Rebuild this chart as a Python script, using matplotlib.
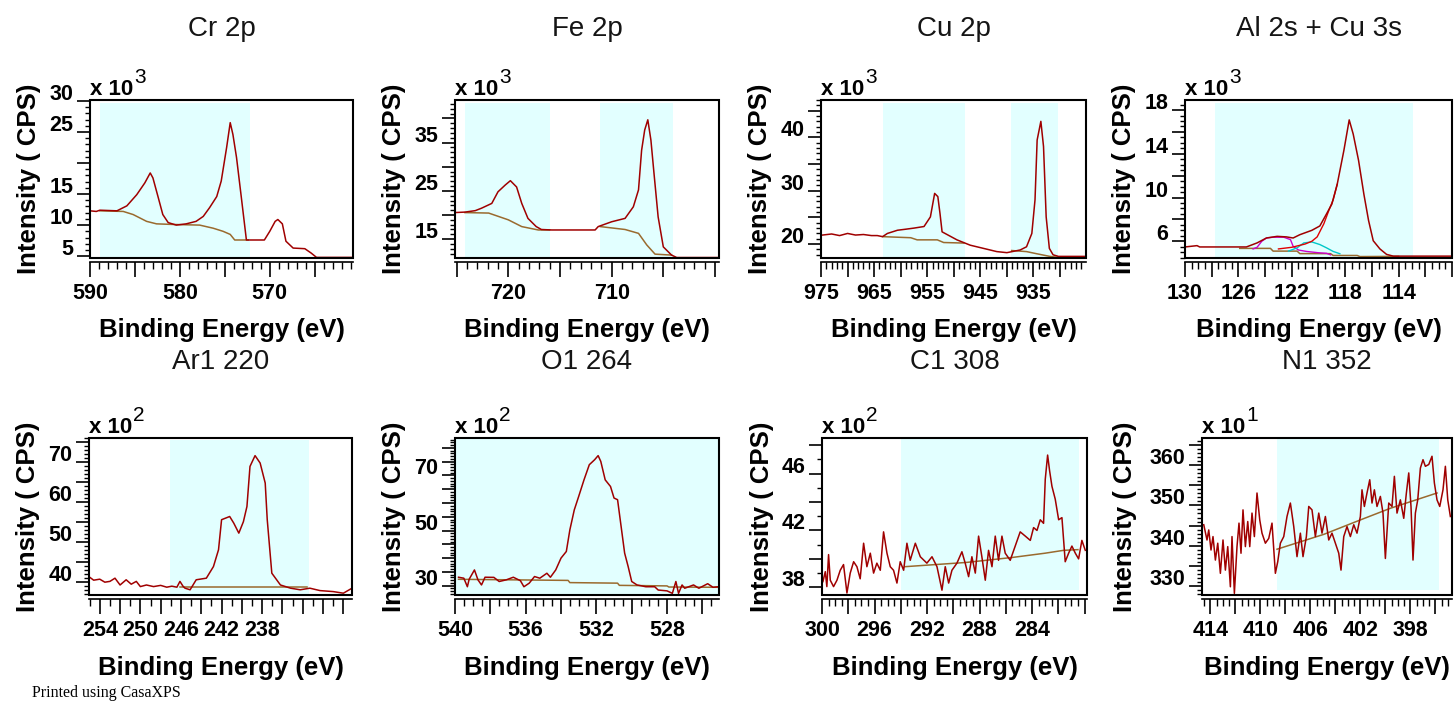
import numpy as np
import matplotlib.pyplot as plt
import matplotlib.transforms as mtransforms
from matplotlib.patches import Rectangle

# ---- data ----
# binding energy in eV, intensity in the units shown on each axis (CPS / 10**exp)

titles = ['Cr 2p', 'Fe 2p', 'Cu 2p', 'Al 2s + Cu 3s', 'Ar1 220', 'O1 264', 'C1 308', 'N1 352']
exponents = [3, 3, 3, 3, 2, 2, 2, 1]

# Cr 2p
cr_be = [590.0, 589.3, 588.9, 587.0, 585.9, 584.8, 583.9, 583.3, 583.0, 582.4, 581.9, 581.3,
         580.4, 579.3, 578.2, 577.4, 576.7, 575.9, 575.4, 574.8, 574.4, 574.1, 573.7, 573.2,
         572.6, 571.9, 570.6, 570.0, 569.4, 569.1, 568.6, 568.2, 567.4, 566.1, 565.4, 564.8, 560.8]
cr_cps = [12.3, 12.2, 12.4, 12.3, 13.1, 14.9, 16.8, 18.4, 17.6, 14.4, 11.7, 10.4,
          10.0, 10.2, 10.6, 11.4, 12.8, 14.6, 17.1, 22.5, 26.5, 24.6, 20.9, 14.9,
          7.6, 7.6, 7.6, 9.0, 10.6, 10.9, 10.2, 7.4, 6.3, 6.2, 5.5, 4.8, 4.8]
cr_bg_be = [588.9, 586.3, 585.2, 583.7, 582.6, 580.7, 577.8, 576.3, 575.2, 574.4, 573.9, 572.4]
cr_bg_cps = [12.3, 12.2, 11.7, 10.6, 10.2, 10.1, 10.0, 9.5, 9.0, 8.5, 7.6, 7.6]
cr_regions = [(588.9, 572.2)]
cr_xticks = [590, 580, 570]
cr_yticks = [5, 10, 15, 25, 30]

# Fe 2p
fe_be = [725.2, 724.2, 723.2, 722.6, 721.6, 721.0, 720.3, 719.8, 719.2, 718.7, 718.1, 717.3,
         716.8, 715.8, 711.6, 711.3, 710.0, 708.7, 707.9, 707.4, 707.1, 706.8, 706.5, 706.2,
         705.9, 705.5, 705.0, 704.2, 703.7, 699.7]
fe_cps = [20.5, 20.6, 20.9, 21.4, 22.4, 24.8, 26.2, 27.1, 25.8, 22.4, 19.3, 17.6,
          17.0, 16.9, 16.9, 17.6, 18.6, 19.3, 21.7, 25.2, 33.4, 37.6, 39.7, 35.5,
          28.6, 19.6, 13.4, 11.7, 11.2, 11.2]
fe_bg1_be = [724.2, 721.9, 720.0, 718.7, 717.1, 716.0]
fe_bg1_cps = [20.5, 20.4, 19.0, 17.6, 16.9, 16.9]
fe_bg2_be = [711.1, 708.7, 707.4, 706.6, 705.8, 704.2]
fe_bg2_cps = [17.6, 17.0, 16.2, 13.8, 11.9, 11.7]
fe_regions = [(724.2, 716.0), (711.1, 704.1)]
fe_xticks = [720, 710]
fe_yticks = [15, 25, 35]

# Cu 2p
cu_be = [974.7, 973.0, 971.5, 970.0, 968.5, 967.0, 965.5, 964.4, 963.4, 962.5, 960.6, 959.0,
         957.5, 955.6, 954.4, 953.6, 953.0, 952.6, 952.2, 949.4, 946.9, 944.4, 941.9, 940.0,
         937.5, 936.3, 935.3, 934.7, 934.3, 933.6, 933.1, 932.6, 932.0, 931.3, 930.3, 925.2]
cu_cps = [21.7, 21.9, 21.6, 22.0, 21.7, 21.8, 21.6, 21.6, 21.4, 22.0, 22.6, 22.8,
          23.0, 23.3, 25.1, 29.5, 28.9, 25.8, 22.3, 20.8, 19.8, 19.2, 18.6, 18.4,
          18.9, 19.5, 22.0, 28.3, 39.5, 43.0, 38.3, 25.1, 19.2, 18.0, 17.7, 17.7]
cu_bg1_be = [963.4, 958.1, 956.9, 953.1, 951.9, 948.1]
cu_bg1_cps = [21.4, 21.2, 20.8, 20.8, 20.3, 20.2]
cu_bg2_be = [939.1, 936.3, 934.4, 931.9, 930.3]
cu_bg2_cps = [18.8, 18.6, 18.2, 17.7, 17.5]
cu_regions = [(963.4, 947.9), (939.2, 930.3)]
cu_xticks = [975, 965, 955, 945, 935]
cu_yticks = [20, 30, 40]

# Al 2s + Cu 3s (with fitted components)
al_be = [130.0, 129.1, 128.9, 125.4, 124.6, 123.9, 123.1, 122.4, 121.9, 121.4, 120.5, 119.9,
         119.4, 119.0, 118.6, 118.1, 117.7, 117.4, 117.0, 116.6, 116.25, 115.9, 115.4, 114.9,
         114.4, 110.0]
al_cps = [5.48, 5.6, 5.48, 5.48, 5.85, 6.3, 6.45, 6.4, 6.3, 6.6, 7.0, 7.4,
          8.5, 9.4, 11.2, 14.3, 17.1, 15.8, 13.4, 10.3, 7.9, 6.05, 5.3, 4.8,
          4.64, 4.64]
al_bg_be = [125.9, 123.6, 123.4, 121.6, 121.4, 119.1, 118.9, 117.1, 116.9, 114.0]
al_bg_cps = [5.35, 5.35, 5.1, 5.1, 4.87, 4.87, 4.7, 4.7, 4.6, 4.62]
al_c1_be = [124.9, 124.6, 124.25, 123.9, 123.4, 122.6, 122.1, 121.9, 121.5, 120.9, 120.0, 119.4, 119.1]
al_c1_cps = [5.3, 5.45, 6.0, 6.3, 6.37, 6.37, 6.15, 5.54, 5.2, 5.07, 4.95, 4.9, 4.76]
al_c2_be = [122.25, 121.6, 121.1, 120.5, 119.9, 119.4, 118.9, 118.4]
al_c2_cps = [5.1, 5.4, 5.85, 5.94, 5.7, 5.4, 5.07, 4.86]
al_c3_be = [123.0, 122.0, 121.0, 120.5, 120.1, 119.6, 119.2, 118.9, 118.6]
al_c3_cps = [5.3, 5.45, 5.75, 6.0, 6.4, 7.6, 8.9, 9.8, 11.2]
al_regions = [(127.75, 112.9)]
al_xticks = [130, 126, 122, 118, 114]
al_yticks = [6, 10, 14, 18]

# Ar1 220
ar_be = [255.0, 254.6, 254.0, 253.5, 253.0, 252.5, 252.0, 251.4, 250.9, 250.4, 250.0, 249.4,
         248.7, 248.0, 247.4, 246.9, 246.4, 246.1, 245.8, 245.6, 245.1, 244.5, 243.5, 242.8,
         242.3, 242.0, 241.2, 240.8, 240.3, 239.85, 239.5, 239.2, 238.7, 238.2, 237.7, 237.5,
         237.05, 236.2, 235.2, 234.25, 233.3, 232.3, 231.0, 230.0, 229.15]
ar_cps = [41.25, 40.5, 40.75, 40.0, 40.2, 41.0, 39.3, 40.6, 39.5, 40.2, 38.9, 39.3,
          38.9, 39.2, 38.75, 39.0, 38.75, 40.2, 39.0, 38.5, 38.1, 40.6, 41.0, 43.9,
          48.1, 55.6, 56.4, 54.75, 52.25, 55.1, 58.9, 68.9, 71.6, 69.75, 64.75, 55.6,
          42.25, 39.3, 38.5, 38.1, 38.5, 37.9, 37.65, 37.25, 38.5]
ar_bg_be = [246.1, 233.6]
ar_bg_cps = [38.75, 38.75]
ar_regions = [(247.1, 233.4)]
ar_xticks = [254, 250, 246, 242, 238]
ar_yticks = [40, 50, 60, 70]

# O1 264
o_be = [539.8, 539.5, 539.3, 539.2, 538.9, 538.7, 538.5, 538.3, 537.8, 537.5, 537.1, 536.7,
        536.3, 536.1, 535.8, 535.5, 535.2, 534.8, 534.6, 534.3, 534.0, 533.7, 533.5, 533.25,
        533.0, 532.7, 532.4, 532.1, 531.9, 531.75, 531.5, 531.2, 531.0, 530.8, 530.6, 530.4,
        530.2, 530.0, 529.7, 529.2, 528.7, 528.5, 528.0, 527.7, 527.5, 527.35, 527.15, 527.0,
        526.5, 526.2, 525.7, 525.4, 525.1]
o_cps = [33.05, 32.7, 29.6, 32.3, 35.7, 32.1, 30.25, 33.05, 33.0, 31.5, 32.1, 33.05,
         31.8, 29.6, 30.9, 33.3, 32.7, 34.5, 33.05, 35.7, 40.0, 42.4, 50.25, 57.5,
         62.4, 68.4, 73.9, 75.7, 77.2, 75.1, 68.4, 66.0, 61.8, 61.2, 51.5, 41.8,
         36.9, 31.5, 30.25, 29.6, 29.6, 28.4, 28.1, 27.2, 31.5, 27.2, 30.25, 29.05,
         30.25, 29.05, 30.7, 29.4, 29.6]
o_bg_be = [539.8, 533.6, 533.5, 530.8, 530.7, 528.0, 527.9, 525.1]
o_bg_cps = [32.3, 31.9, 31.1, 30.9, 30.1, 29.9, 29.5, 29.4]
o_regions = [(540.0, 525.05)]
o_xticks = [540, 536, 532, 528]
o_yticks = [30, 50, 70]

# C1 308
c_be = [299.93, 299.75, 299.63, 299.50, 299.37, 299.12, 298.86, 298.61, 298.36, 298.10,
        297.85, 297.59, 297.34, 297.09, 296.83, 296.58, 296.32, 296.07, 295.82, 295.56,
        295.31, 295.05, 294.80, 294.55, 294.29, 294.04, 293.78, 293.53, 293.28, 292.89,
        292.51, 292.01, 291.62, 291.24, 290.86, 290.61, 290.35, 290.10, 289.72, 289.34,
        289.09, 288.83, 288.58, 288.32, 288.07, 287.82, 287.56, 287.31, 287.05, 286.80,
        286.55, 286.29, 286.04, 285.66, 285.28, 284.90, 284.51, 284.13, 283.88, 283.62,
        283.37, 283.12, 282.99, 282.81, 282.66, 282.48, 282.23, 281.97, 281.72, 281.59,
        281.47, 281.21, 280.96, 280.70, 280.45, 280.20, 279.94]
c_cps = [38.4, 39.1, 38.05, 40.3, 38.5, 38.05, 38.5, 39.2, 39.6, 37.6,
         39.0, 39.8, 39.45, 38.6, 41.1, 39.45, 40.4, 39.0, 39.7, 39.2,
         41.9, 40.4, 39.45, 39.2, 38.3, 39.8, 39.2, 41.1, 39.9, 41.1,
         40.15, 39.7, 40.15, 39.45, 37.8, 39.45, 38.3, 39.2, 39.7, 40.5,
         39.7, 38.75, 40.15, 39.0, 41.6, 40.15, 38.5, 40.6, 39.45, 41.6,
         39.9, 41.6, 40.4, 39.9, 40.9, 41.9, 41.6, 41.3, 42.2, 42.0,
         42.75, 42.5, 45.6, 47.3, 46.2, 45.1, 44.2, 42.75, 42.9, 41.3,
         39.8, 40.4, 40.9, 40.4, 40.0, 41.3, 40.6]
c_bg_be = [293.7, 289.0, 285.5, 283.0, 281.6, 280.5]
c_bg_cps = [39.45, 39.75, 40.1, 40.4, 40.6, 40.65]
c_regions = [(294.0, 280.45)]
c_xticks = [300, 296, 292, 288, 284]
c_yticks = [38, 42, 46]

# N1 352
n_be = [414.53, 414.27, 414.13, 413.95, 413.79, 413.60, 413.41, 413.20, 412.99, 412.80,
        412.61, 412.40, 412.27, 412.08, 411.87, 411.71, 411.55, 411.39, 411.20, 411.01,
        410.85, 410.67, 410.48, 410.27, 410.05, 409.87, 409.60, 409.33, 409.07, 408.80,
        408.61, 408.40, 408.13, 407.87, 407.60, 407.33, 407.07, 406.80, 406.59, 406.32,
        406.13, 405.87, 405.60, 405.33, 405.07, 404.80, 404.53, 404.27, 404.00, 403.73,
        403.55, 403.33, 403.07, 402.80, 402.53, 402.27, 402.00, 401.87, 401.68, 401.47,
        401.25, 401.07, 400.88, 400.67, 400.40, 400.19, 400.00, 399.73, 399.47, 399.28,
        399.07, 398.80, 398.53, 398.32, 398.13, 397.95, 397.79, 397.60, 397.41, 397.20,
        396.99, 396.80, 396.53, 396.27, 396.08, 395.87, 395.65, 395.39, 395.20, 395.01, 394.80]
n_cps = [345.2, 341.4, 343.9, 338.9, 342.25, 336.4, 340.6, 333.1, 341.4, 333.9,
         339.75, 329.75, 342.25, 328.1, 339.75, 345.6, 338.1, 348.9, 339.75, 346.0,
         339.75, 348.1, 342.25, 353.1, 346.4, 343.1, 340.6, 341.8, 345.6, 333.1,
         336.0, 340.6, 342.25, 347.25, 350.6, 344.75, 337.25, 343.1, 337.25, 342.25,
         349.75, 348.9, 342.25, 348.1, 343.1, 347.25, 341.4, 343.1, 340.6, 338.1,
         333.9, 342.25, 344.75, 342.25, 345.2, 343.1, 347.25, 353.9, 349.75, 353.1,
         356.4, 350.6, 353.9, 349.75, 352.25, 348.1, 336.8, 350.6, 349.75, 357.25,
         348.1, 351.4, 346.8, 353.1, 358.1, 349.75, 336.4, 348.1, 351.4, 359.3,
         361.4, 359.75, 360.2, 362.25, 355.6, 351.4, 349.75, 353.9, 359.75, 351.4, 347.25]
n_bg_be = [408.67, 404.93, 402.0, 399.6, 395.87]
n_bg_cps = [339.1, 342.8, 346.4, 349.3, 353.1]
n_regions = [(408.67, 395.73)]
n_xticks = [414, 410, 406, 402, 398]
n_yticks = [330, 340, 350, 360]

# ---- layout / styling ----
plt.rcParams['font.family'] = ['Liberation Sans', 'DejaVu Sans']

W, H = 1455, 704
SPEC = '#a00000'
BGC = '#9a6a2e'
SHADE = '#e2ffff'

fig = plt.figure(figsize=(W / 100, H / 100), dpi=100)
fig.patch.set_facecolor('white')

panels = [
    dict(be=cr_be, cps=cr_cps, bg=[(cr_bg_be, cr_bg_cps)], regions=cr_regions,
         xlab=cr_xticks, ylab=cr_yticks, box=(90, 100, 353, 258),
         xlim=(590, 560.74), ylim=(4.7, 30.15), xstep=(5, 1), ystep=(5, 1), span=(0, 0.98)),
    dict(be=fe_be, cps=fe_cps, bg=[(fe_bg1_be, fe_bg1_cps), (fe_bg2_be, fe_bg2_cps)],
         regions=fe_regions, xlab=fe_xticks, ylab=fe_yticks, box=(455, 100, 719, 258),
         xlim=(725.16, 699.61), ylim=(11.1, 43.8), xstep=(5, 1), ystep=(5, 1), span=(0, 0.98)),
    dict(be=cu_be, cps=cu_cps, bg=[(cu_bg1_be, cu_bg1_cps), (cu_bg2_be, cu_bg2_cps)],
         regions=cu_regions, xlab=cu_xticks, ylab=cu_yticks, box=(821, 100, 1086, 258),
         xlim=(975, 925.1), ylim=(17.4, 47.0), xstep=(5, 1), ystep=(5, 1), span=(0, 0.98)),
    dict(be=al_be, cps=al_cps, bg=[(al_bg_be, al_bg_cps)], regions=al_regions,
         comps=[(al_c1_be, al_c1_cps, '#cc00cc'), (al_c2_be, al_c2_cps, '#00c8c8'),
                (al_c3_be, al_c3_cps, '#e00000')],
         xlab=al_xticks, ylab=al_yticks, box=(1185, 100, 1452, 258),
         xlim=(130, 110), ylim=(4.47, 18.92), xstep=(2, 0.5), ystep=(2, 0.5), span=(0, 0.98)),
    dict(be=ar_be, cps=ar_cps, bg=[(ar_bg_be, ar_bg_cps)], regions=ar_regions,
         xlab=ar_xticks, ylab=ar_yticks, box=(89, 438, 352, 595),
         xlim=(255.06, 229.15), ylim=(36.8, 76.0), xstep=(2, 1), ystep=(5, 1), span=(0, 0.99)),
    dict(be=o_be, cps=o_cps, bg=[(o_bg_be, o_bg_cps)], regions=o_regions,
         xlab=o_xticks, ylab=o_yticks, box=(455, 438, 719, 595),
         xlim=(540.0, 525.06), ylim=(26.6, 83.6), xstep=(2, 0.5), ystep=(5, 1), span=(0, 1)),
    dict(be=c_be, cps=c_cps, bg=[(c_bg_be, c_bg_cps)], regions=c_regions,
         xlab=c_xticks, ylab=c_yticks, box=(822, 438, 1087, 595),
         xlim=(300.0, 279.81), ylim=(37.46, 48.5), xstep=(2, 0.5), ystep=(2, 1), span=(0.03, 1)),
    dict(be=n_be, cps=n_cps, bg=[(n_bg_be, n_bg_cps)], regions=n_regions,
         xlab=n_xticks, ylab=n_yticks, box=(1202, 438, 1452, 595),
         xlim=(414.67, 394.67), ylim=(327.7, 366.8), xstep=(2, 0.5), ystep=(5, 1), span=(0.03, 1)),
]


def fig_box(b):
    x0, y0, x1, y1 = b
    return [x0 / W, 1 - y1 / H, (x1 - x0) / W, (y1 - y0) / H]


def multiples(lo, hi, step):
    k0 = int(np.ceil(lo / step - 1e-6))
    k1 = int(np.floor(hi / step + 1e-6))
    return [k * step for k in range(k0, k1 + 1)]


def labels_for(vals, shown):
    return ['%g' % v if any(abs(v - s) < 1e-6 for s in shown) else '' for v in vals]


ylab_up = mtransforms.ScaledTranslation(0, 9 / 100, fig.dpi_scale_trans)
mult_up = mtransforms.ScaledTranslation(0, 5 / 100, fig.dpi_scale_trans)

for i, p in enumerate(panels):
    ax = fig.add_axes(fig_box(p['box']))
    w_px = p['box'][2] - p['box'][0]
    h_px = p['box'][3] - p['box'][1]
    top_row = i < 4

    # frame: closed box plus a separate x axis line just below it
    # (spine position first: it resets the ticks)
    for s in ['top', 'right']:
        ax.spines[s].set_visible(False)
    ax.spines['left'].set_linewidth(1.4)
    ax.spines['bottom'].set_position(('outward', 3))
    ax.spines['bottom'].set_linewidth(1.2)
    ax.add_patch(Rectangle((0, 0), 1, 1, transform=ax.transAxes, fill=False,
                           lw=1.5, ec='black', clip_on=False, zorder=5))

    for r0, r1 in p['regions']:
        ax.axvspan(r0, r1, ymin=p['span'][0], ymax=p['span'][1], color=SHADE, lw=0, zorder=0)
    for bx, by in p['bg']:
        ax.plot(bx, by, color=BGC, lw=1.1, zorder=2)
    for cx, cy, cc in p.get('comps', []):
        ax.plot(cx, cy, color=cc, lw=1.0, zorder=2)
    ax.plot(p['be'], p['cps'], color=SPEC, lw=1.1, zorder=3)

    ax.set_xlim(*p['xlim'])
    ax.set_ylim(*p['ylim'])

    xlo, xhi = min(p['xlim']), max(p['xlim'])
    xmaj = multiples(xlo, xhi, p['xstep'][0])
    ax.set_xticks(xmaj)
    ax.set_xticklabels(labels_for(xmaj, p['xlab']))
    ax.set_xticks(multiples(xlo, xhi, p['xstep'][1]), minor=True)

    ylo, yhi = p['ylim']
    ymaj = multiples(ylo, yhi, p['ystep'][0])
    ax.set_yticks(ymaj)
    ax.set_yticklabels(labels_for(ymaj, p['ylab']))
    ax.set_yticks(multiples(ylo, yhi, p['ystep'][1]), minor=True)

    ax.tick_params(axis='x', which='major', direction='out', length=10.8, width=1.2,
                   pad=4, labelsize=15.5)
    ax.tick_params(axis='x', which='minor', direction='out', length=4.8, width=1.0)
    ax.tick_params(axis='y', which='major', direction='out', length=9.4, width=1.2,
                   pad=2.5, labelsize=15.5)
    ax.tick_params(axis='y', which='minor', direction='out', length=3.6, width=1.0)
    for lab in ax.get_xticklabels() + ax.get_yticklabels():
        lab.set_fontweight('bold')
    for lab in ax.get_yticklabels():
        lab.set_transform(lab.get_transform() + ylab_up)

    ax.set_xlabel('Binding Energy (eV)', fontsize=18.5, fontweight='bold')
    ax.xaxis.set_label_coords(0.5, -79.5 / h_px)
    ax.xaxis.label.set_va('baseline')
    ax.set_ylabel('Intensity ( CPS)', fontsize=18.5, fontweight='bold')
    ylab_dx = 77 if i == 7 else 60.5
    ax.yaxis.set_label_coords(-ylab_dx / w_px, 0.5)
    ax.yaxis.label.set_va('center')

    pad_px = 64 if top_row else 69
    ax.set_title(titles[i], fontsize=20, pad=pad_px * 0.72, color='#151515')

    t = ax.text(0, 1, 'x 10', transform=ax.transAxes + mult_up, ha='left', va='baseline',
                fontsize=16, fontweight='bold')
    ax.annotate(str(exponents[i]), xy=(1, 0), xycoords=t, xytext=(0.5, 12),
                textcoords='offset points', ha='left', va='baseline', fontsize=15)

fig.text(32 / W, 1 - 697 / H, 'Printed using CasaXPS', family='Liberation Serif',
         fontsize=11.5, va='baseline')

fig.savefig('out.png', dpi=100)
